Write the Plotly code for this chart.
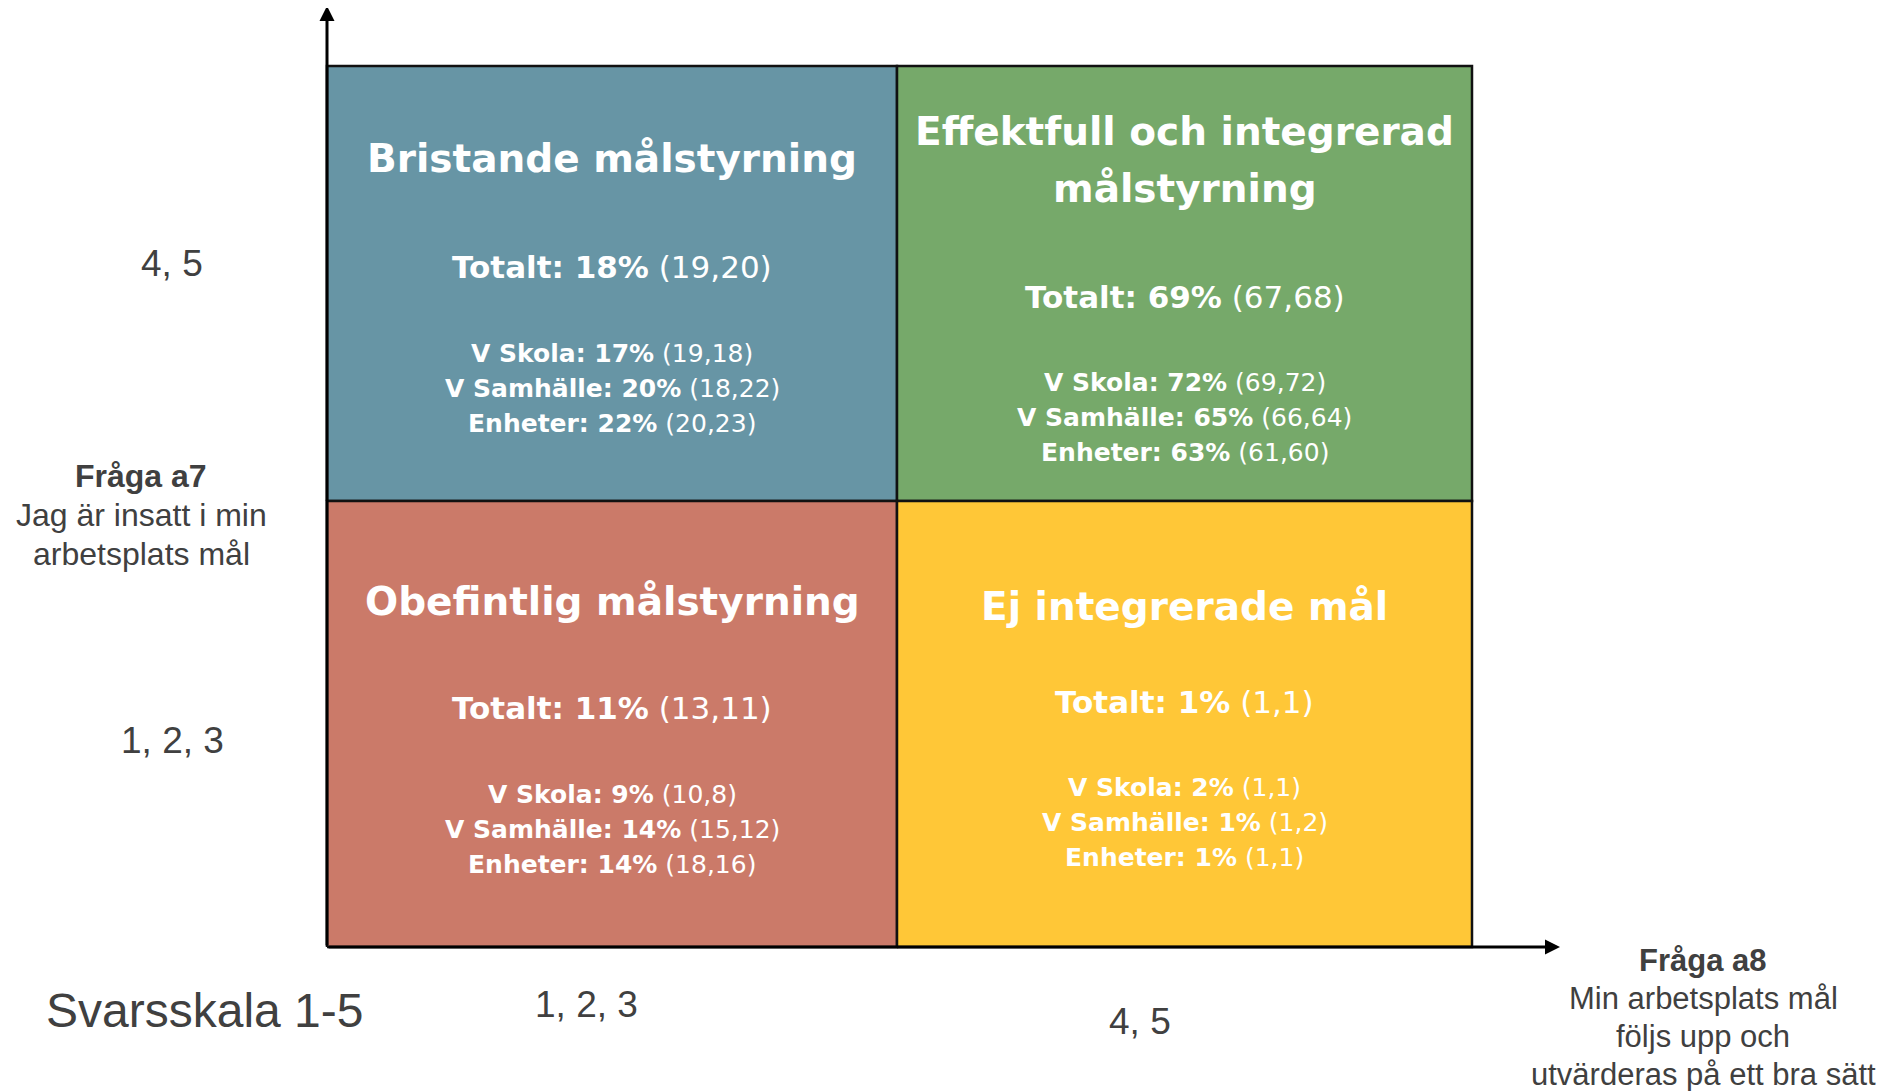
import plotly.graph_objects as go

PAGE_W, PAGE_H = 1901, 1091
BODY = 8                      # default page margin around the plot
W, H = PAGE_W - BODY, PAGE_H - BODY

# ---------------- data ----------------
quadrant_titles = ["Bristande målstyrning",
                   "Effektfull och integrerad<br>målstyrning",
                   "Obefintlig målstyrning",
                   "Ej integrerade mål"]
quadrant_col = [0, 1, 0, 1]   # Fråga a8: 0 = "1, 2, 3", 1 = "4, 5"
quadrant_row = [1, 1, 0, 0]   # Fråga a7: 0 = "1, 2, 3", 1 = "4, 5"
quadrant_colors = ["#6795A5", "#76A96A", "#CB7A69", "#FFC737"]

totalt = [18, 69, 11, 1]
totalt_prev = ["19,20", "67,68", "13,11", "1,1"]

group_names = ["V Skola", "V Samhälle", "Enheter"]
group_values = [[17, 20, 22], [72, 65, 63], [9, 14, 14], [2, 1, 1]]
group_prev = [["19,18", "18,22", "20,23"],
              ["69,72", "66,64", "61,60"],
              ["10,8", "15,12", "18,16"],
              ["1,1", "1,2", "1,1"]]

scale_labels = ["1, 2, 3", "4, 5"]
y_question = ["Fråga a7", "Jag är insatt i min", "arbetsplats mål"]
x_question = ["Fråga a8", "Min arbetsplats mål", "följs upp och", "utvärderas på ett bra sätt"]
scale_title = "Svarsskala 1-5"

# ---------------- layout geometry (page pixels) ----------------
X0, X2 = 327 - BODY, 1472 - BODY     # figure px of data x = 0 and x = 2
Y0, Y2 = 947 - BODY, 66 - BODY       # figure px of data y = 0 and y = 2
ux = (X2 - X0) / 2.0
uy = (Y0 - Y2) / 2.0
x_range = [-X0 / ux, (W - X0) / ux]
y_range = [-(H - Y0) / uy, Y0 / uy]


def dx(px):
    return (px - BODY - X0) / ux


def dy(py):
    return (Y0 - (py - BODY)) / uy


# band edges of the 2x2 grid (column / row index -> axis span)
col_edges = [dx(327), dx(897), dx(1472)]
row_edges = [dy(947), dy(501), dy(66)]

QFONT = "DejaVu Sans"
AFONT = "Liberation Sans, Arial, sans-serif"
GREY = "#404040"

fig = go.Figure()

# quadrants
for i in range(4):
    c, r = quadrant_col[i], quadrant_row[i]
    x_a, x_b = col_edges[c], col_edges[c + 1]
    y_a, y_b = row_edges[r], row_edges[r + 1]
    fig.add_trace(go.Scatter(
        x=[x_a, x_b, x_b, x_a, x_a],
        y=[y_a, y_a, y_b, y_b, y_a],
        mode="lines", fill="toself",
        fillcolor=quadrant_colors[i],
        line=dict(color="#111111", width=2.5),
        hoverinfo="skip", showlegend=False,
    ))

annotations = []

# text inside quadrants (offsets in px below quadrant top)
title_off = [92, 93.5, 100, 105]
title_gap = 57
tot_off = [201, 231, 207, 201]
det_off = [287, 316, 293, 286]
det_gap = 35

for i in range(4):
    c, r = quadrant_col[i], quadrant_row[i]
    xc = (col_edges[c] + col_edges[c + 1]) / 2.0
    top = row_edges[r + 1]
    lines = quadrant_titles[i].split("<br>")
    n = len(lines)
    for k, line in enumerate(lines):
        off = title_off[i] + (k - (n - 1) / 2.0) * title_gap
        annotations.append(dict(
            x=xc, y=top - off / uy, xref="x", yref="y",
            text="<b>" + line + "</b>", showarrow=False,
            xanchor="center", yanchor="middle",
            font=dict(family=QFONT, size=39, color="white")))
    annotations.append(dict(
        x=xc, y=top - tot_off[i] / uy, xref="x", yref="y",
        text="<b>Totalt: %d%%</b> (%s)" % (totalt[i], totalt_prev[i]),
        showarrow=False, xanchor="center", yanchor="middle",
        font=dict(family=QFONT, size=31, color="white")))
    for k, g in enumerate(group_names):
        annotations.append(dict(
            x=xc, y=top - (det_off[i] + k * det_gap) / uy, xref="x", yref="y",
            text="<b>%s: %d%%</b> (%s)" % (g, group_values[i][k], group_prev[i][k]),
            showarrow=False, xanchor="center", yanchor="middle",
            font=dict(family=QFONT, size=25, color="white")))

# axis arrows
annotations.append(dict(
    x=col_edges[0], y=dy(6), ax=col_edges[0], ay=row_edges[0],
    xref="x", yref="y", axref="x", ayref="y",
    text="", showarrow=True, arrowhead=2, arrowsize=1, arrowwidth=3,
    arrowcolor="black", standoff=0, startstandoff=0))
annotations.append(dict(
    x=dx(1560), y=row_edges[0], ax=col_edges[0], ay=row_edges[0],
    xref="x", yref="y", axref="x", ayref="y",
    text="", showarrow=True, arrowhead=2, arrowsize=1, arrowwidth=3,
    arrowcolor="black", standoff=0, startstandoff=0))

# scale labels
left_pos = [(172, 740), (172, 263)]
bottom_pos = [(586, 1004), (1140, 1021)]
for k, lab in enumerate(scale_labels):
    px, py = left_pos[k]
    annotations.append(dict(x=dx(px), y=dy(py), xref="x", yref="y", text=lab,
                            showarrow=False, xanchor="center", yanchor="middle",
                            font=dict(family=AFONT, size=37, color=GREY)))
    px, py = bottom_pos[k]
    annotations.append(dict(x=dx(px), y=dy(py), xref="x", yref="y", text=lab,
                            showarrow=False, xanchor="center", yanchor="middle",
                            font=dict(family=AFONT, size=37, color=GREY)))

# question labels
for k, line in enumerate(y_question):
    annotations.append(dict(x=dx(141), y=dy(476 + 39 * k), xref="x", yref="y",
                            text=("<b>%s</b>" % line) if k == 0 else line,
                            showarrow=False, xanchor="center", yanchor="middle",
                            font=dict(family=AFONT, size=32, color=GREY)))
for k, line in enumerate(x_question):
    annotations.append(dict(x=dx(1703), y=dy(960 + 38 * k), xref="x", yref="y",
                            text=("<b>%s</b>" % line) if k == 0 else line,
                            showarrow=False, xanchor="center", yanchor="middle",
                            font=dict(family=AFONT, size=31, color=GREY)))

annotations.append(dict(x=dx(204), y=dy(1010), xref="x", yref="y", text=scale_title,
                        showarrow=False, xanchor="center", yanchor="middle",
                        font=dict(family=AFONT, size=48, color=GREY)))

fig.update_layout(
    width=W, height=H,
    margin=dict(l=0, r=0, t=0, b=0),
    paper_bgcolor="white", plot_bgcolor="white",
    xaxis=dict(range=x_range, visible=False, fixedrange=True),
    yaxis=dict(range=y_range, visible=False, fixedrange=True),
    annotations=annotations,
    showlegend=False,
)

fig.write_html("out.html", config={"displayModeBar": False})
